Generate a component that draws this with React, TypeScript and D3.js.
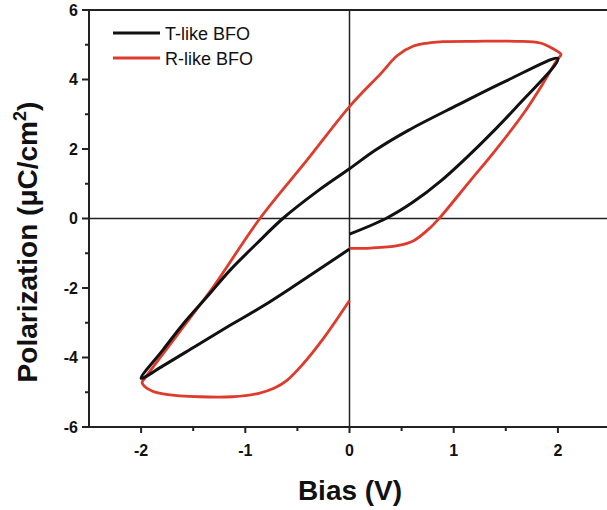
import React from "react";
import * as d3 from "d3";

const tLikeX = [0, 0.35, 0.6, 0.88, 1.25, 1.6, 2.0, 1.51, 1.04, 0.56, 0.25, 0.0, -0.31, -0.64, -0.89, -1.15, -1.34, -1.6, -1.79, -2.0, -1.79, -1.47, -1.15, -0.83, -0.51, 0.0];
const tLikeY = [-0.45, 0.0, 0.45, 1.09, 2.12, 3.2, 4.6, 3.97, 3.27, 2.53, 1.97, 1.43, 0.78, 0.0, -0.72, -1.5, -2.16, -3.05, -3.78, -4.6, -4.24, -3.66, -3.08, -2.52, -1.9, -0.88];

const rLikeX = [0, 0.2, 0.46, 0.62, 0.78, 0.86, 1.16, 1.4, 1.67, 1.85, 2.0, 2.03, 1.95, 1.83, 1.6, 1.2, 0.9, 0.78, 0.62, 0.46, 0.3, 0.0, -0.41, -0.86, -1.31, -1.62, -1.96, -1.99, -1.96, -1.89, -1.76, -1.44, -1.12, -0.87, -0.72, -0.6, -0.45, -0.25, 0.0];
const rLikeY = [-0.86, -0.85, -0.78, -0.63, -0.25, 0.0, 1.09, 1.96, 3.02, 3.85, 4.6, 4.72, 4.89, 5.05, 5.1, 5.1, 5.09, 5.06, 4.97, 4.69, 4.17, 3.22, 1.67, 0.0, -1.98, -3.22, -4.58, -4.72, -4.85, -4.97, -5.06, -5.13, -5.13, -5.03, -4.88, -4.66, -4.2, -3.45, -2.36];

const xMajor = [-2, -1, 0, 1, 2];
const xMinor = [-1.5, -0.5, 0.5, 1.5];
const yMajor = [-6, -4, -2, 0, 2, 4, 6];
const yMinor = [-5, -3, -1, 1, 3, 5];

const seriesNames = ["T-like BFO", "R-like BFO"];
const seriesColors = ["#111111", "#de3b2c"];

export default function App() {
  const W = 607, H = 510;
  const x = d3.scaleLinear().domain([-2.5, 2.5]).range([89, 610]);
  const y = d3.scaleLinear().domain([-6, 6]).range([427, 10]);
  const line = d3.line<[number, number]>().x(d => x(d[0])).y(d => y(d[1])).curve(d3.curveCatmullRom.alpha(0.5));
  const tPts: [number, number][] = tLikeX.map((v, i) => [v, tLikeY[i]]);
  const rPts: [number, number][] = rLikeX.map((v, i) => [v, rLikeY[i]]);
  const font = "'Liberation Sans', Arial, sans-serif";
  return (
    <svg width={W} height={H} style={{ position: "absolute", left: 0, top: 0, background: "#fff" }}>
      <rect x={0} y={0} width={W} height={H} fill="#fff" />
      {/* zero lines */}
      <line x1={x(0)} x2={x(0)} y1={y(6)} y2={y(-6)} stroke="#222" strokeWidth={1.5} />
      <line x1={x(-2.5)} x2={x(2.5)} y1={y(0)} y2={y(0)} stroke="#222" strokeWidth={1.5} />
      {/* curves */}
      <path d={line(rPts) || ""} fill="none" stroke={seriesColors[1]} strokeWidth={2.8} strokeLinejoin="round" />
      <path d={line(tPts) || ""} fill="none" stroke={seriesColors[0]} strokeWidth={3} strokeLinejoin="round" />
      {/* frame */}
      <line x1={x(-2.5)} x2={x(2.5)} y1={y(6)} y2={y(6)} stroke="#222" strokeWidth={2} />
      <line x1={x(-2.5)} x2={x(2.5)} y1={y(-6)} y2={y(-6)} stroke="#222" strokeWidth={2} />
      <line x1={x(-2.5)} x2={x(-2.5)} y1={y(6)} y2={y(-6)} stroke="#222" strokeWidth={2} />
      {/* x ticks */}
      {xMajor.map(v => (
        <g key={"xm" + v}>
          <line x1={x(v)} x2={x(v)} y1={y(-6)} y2={y(-6) + 6} stroke="#222" strokeWidth={2} />
          <text x={x(v)} y={456} textAnchor="middle" fontFamily={font} fontWeight="bold" fontSize={16} fill="#111">{v}</text>
        </g>
      ))}
      {xMinor.map(v => (
        <line key={"xn" + v} x1={x(v)} x2={x(v)} y1={y(-6)} y2={y(-6) + 4} stroke="#222" strokeWidth={2} />
      ))}
      {/* y ticks */}
      {yMajor.map(v => (
        <g key={"ym" + v}>
          <line x1={x(-2.5) - 7} x2={x(-2.5)} y1={y(v)} y2={y(v)} stroke="#222" strokeWidth={2} />
          <text x={78} y={y(v) + 5.5} textAnchor="end" fontFamily={font} fontWeight="bold" fontSize={16} fill="#111">{v}</text>
        </g>
      ))}
      {yMinor.map(v => (
        <line key={"yn" + v} x1={x(-2.5) - 4} x2={x(-2.5)} y1={y(v)} y2={y(v)} stroke="#222" strokeWidth={2} />
      ))}
      {/* axis titles */}
      <text x={350} y={500} textAnchor="middle" fontFamily={font} fontWeight="bold" fontSize={28} fill="#111">Bias (V)</text>
      <text transform="translate(37,242) rotate(-90)" textAnchor="middle" fontFamily={font} fontWeight="bold" fontSize={28} fill="#111">
        Polarization (μC/cm<tspan dy={-11} fontSize={18}>2</tspan><tspan dy={11}>)</tspan>
      </text>
      {/* legend */}
      {seriesNames.map((n, i) => (
        <g key={n}>
          <line x1={113} x2={160} y1={33 + i * 25} y2={33 + i * 25} stroke={seriesColors[i]} strokeWidth={3} />
          <text x={165} y={40 + i * 25} fontFamily={font} fontSize={18} fill="#111">{n}</text>
        </g>
      ))}
    </svg>
  );
}
